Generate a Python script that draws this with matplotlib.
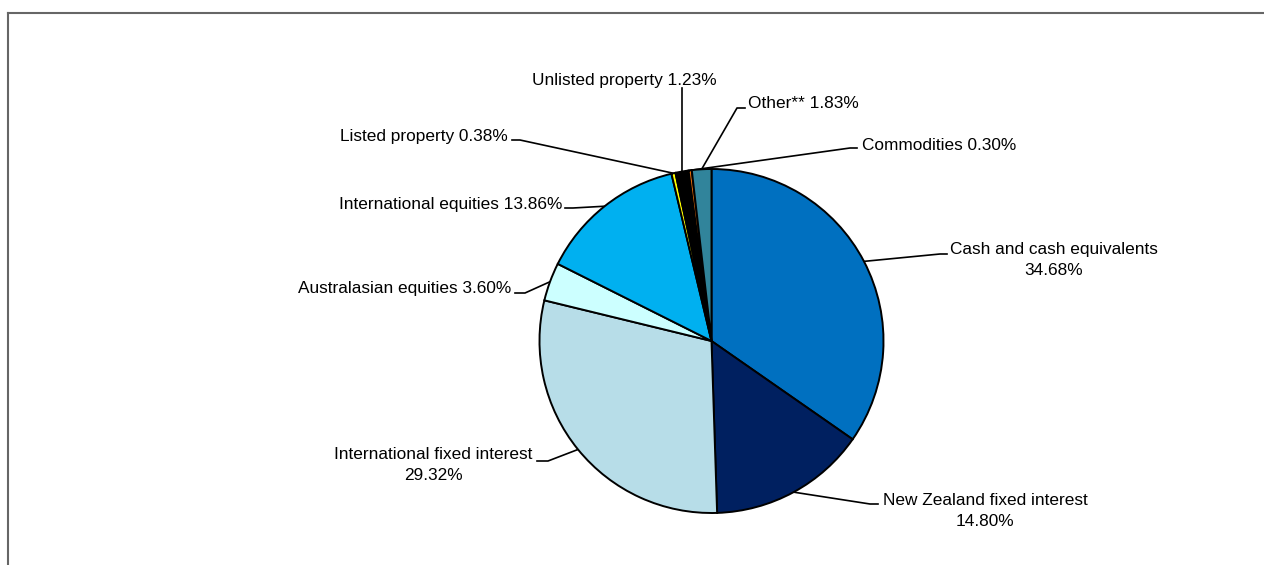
import numpy as np
import matplotlib
matplotlib.use("Agg")
from matplotlib import pyplot as plt

W, H = 1264, 565

labels = ["Cash and cash equivalents", "New Zealand fixed interest",
          "International fixed interest", "Australasian equities",
          "International equities", "Listed property", "Unlisted property",
          "Commodities", "Other**"]
values = [34.68, 14.80, 29.32, 3.60, 13.86, 0.38, 1.23, 0.30, 1.83]
colors = ["#0070C0", "#002060", "#B7DDE8", "#CCFFFF", "#00B0F0",
          "#FFFF00", "#000000", "#E46C0A", "#31849B"]

# label layout in pixels: text anchor, alignment, elbow and end of leader line
layout = [
    dict(text=(1054, 260), ha="center", two=True, elbow=(940, 254), end=(947, 254)),
    dict(text=(985, 511), ha="center", two=True, elbow=(870, 504), end=(878, 504)),
    dict(text=(433, 465), ha="center", two=True, elbow=(548, 461), end=(537, 461)),
    dict(text=(511, 288), ha="right", two=False, elbow=(525, 293), end=(515, 293)),
    dict(text=(562, 204), ha="right", two=False, elbow=(573, 208), end=(565, 208)),
    dict(text=(508, 136), ha="right", two=False, elbow=(520, 140), end=(512, 140)),
    dict(text=(624, 81), ha="center", two=False, elbow=(682, 95), end=(682, 88)),
    dict(text=(862, 146), ha="left", two=False, elbow=(850, 148), end=(857, 148)),
    dict(text=(748, 104), ha="left", two=False, elbow=(737, 108), end=(745, 108)),
]

plt.rcParams['font.family'] = ['Liberation Sans', 'DejaVu Sans']

fig = plt.figure(figsize=(W / 100, H / 100), dpi=100)
ax = fig.add_axes([0, 0, 1, 1])

cx, cy, r = 711.5, H - 341, 172
wedges, _ = ax.pie(values, colors=colors, startangle=90, counterclock=False,
                   center=(cx, cy), radius=r, frame=True,
                   wedgeprops=dict(edgecolor="black", linewidth=1.4))
ax.set_xlim(0, W)
ax.set_ylim(0, H)
ax.set_aspect("equal")
ax.axis("off")

for w, lab, val, lo in zip(wedges, labels, values, layout):
    mid = np.deg2rad((w.theta1 + w.theta2) / 2)
    ex, ey = cx + r * np.cos(mid), cy + r * np.sin(mid)
    xs = [ex, lo["elbow"][0], lo["end"][0]]
    ys = [ey, H - lo["elbow"][1], H - lo["end"][1]]
    ax.plot(xs, ys, color="black", lw=1.2, zorder=0.5)
    if lo["two"]:
        s = f"{lab}\n{val:.2f}%"
    else:
        s = f"{lab} {val:.2f}%"
    ax.text(lo["text"][0], H - lo["text"][1], s, ha=lo["ha"], va="center",
            multialignment="center", fontsize=12.4, color="black",
            linespacing=1.45)

# outer frame (only top and left visible)
ax.plot([8, W], [H - 13, H - 13], color="#666666", lw=1.5, clip_on=False)
ax.plot([8, 8], [H - 13, 0], color="#666666", lw=1.5, clip_on=False)

fig.savefig("out.png", dpi=100)
